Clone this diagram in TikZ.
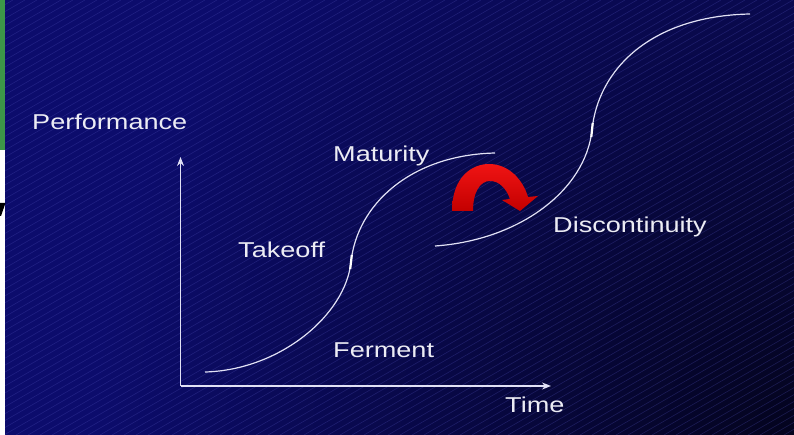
\documentclass[tikz,border=0pt]{standalone}
\usepackage{fontspec}
\setmainfont[FakeStretch=1.26]{Liberation Sans}
\usetikzlibrary{arrows.meta}
\definecolor{bgblue}{RGB}{12,12,108}
\definecolor{bgdark}{RGB}{4,4,30}
\definecolor{stripe}{RGB}{80,80,185}
\definecolor{curvecol}{RGB}{225,225,245}
\definecolor{txtcol}{RGB}{236,236,244}
\definecolor{slidegreen}{RGB}{60,150,72}
\definecolor{arrowred}{RGB}{240,20,20}
\definecolor{arrowdark}{RGB}{195,0,0}
\begin{document}
\begin{tikzpicture}[x=1pt,y=-1pt,
  lbl/.style={anchor=base west, inner sep=0pt, text=txtcol, font=\fontsize{21.5}{26}\selectfont},
  scurve/.style={draw=curvecol, line width=1.2pt},
  ticksty/.style={draw=white, line width=2.2pt},
  axis/.style={draw=curvecol, line width=1.3pt, -{Stealth[length=9pt,width=7pt]}}]
\useasboundingbox (0,0) rectangle (794,435);
% background
\fill[bgblue] (0,0) rectangle (794,435);
\begin{scope}
  \clip (0,0) rectangle (794,435);
  \shade[inner color=bgdark, outer color=bgblue] (794,435) circle (700);
  \foreach \i in {-800,-788,...,800}
    \draw[stripe, opacity=0.3, line width=0.6pt] (\i,435) -- ++(753,-435);
\end{scope}
% left edge remnants
\fill[slidegreen] (0,0) rectangle (5,150);
\fill[white] (0,150) rectangle (5,435);
\fill[black] (0,203) -- (5.5,203) -- (1,216) -- (0,216) -- cycle;
% axes
\coordinate (o) at (180.5,386);
\coordinate (ytop) at (180.5,157);
\coordinate (xend) at (551,386);
\draw[axis] (o) -- (ytop);
\draw[axis] (o) -- (xend);
% first S-curve
\coordinate (s1a) at (205,372);
\coordinate (s1m) at (351,262);
\coordinate (s1b) at (495,153);
\draw[scurve] (s1a) .. controls (280,370) and (345.4,315) .. (s1m)
  .. controls (357,205) and (410,155) .. (s1b);
\draw[ticksty] ([shift={(-0.8,7)}]s1m) -- ([shift={(0.8,-7)}]s1m);
% second S-curve
\coordinate (s2a) at (435,246);
\coordinate (s2m) at (592,130);
\coordinate (s2b) at (750,14);
\draw[scurve] (s2a) .. controls (520,240) and (585.5,190) .. (s2m)
  .. controls (598,70) and (650,16) .. (s2b);
\draw[ticksty] ([shift={(-0.7,7)}]s2m) -- ([shift={(0.7,-7)}]s2m);
% red curved arrow
\shade[top color=arrowred, bottom color=arrowdark]
  (452,211) .. controls (452,177) and (472,164) .. (489,164)
  .. controls (509,164) and (523,180) .. (528,197)
  -- (538,196) -- (520,211) -- (502,200) -- (510,199)
  .. controls (506,188) and (499,181) .. (490,181)
  .. controls (480,181) and (473,192) .. (473,211) -- cycle;
% labels
\node[lbl] (perf) at (32,130) {Performance};
\node[lbl] (mat) at (333,162) {Maturity};
\node[lbl] (take) at (238,258) {Takeoff};
\node[lbl] (ferm) at (333,357) {Ferment};
\node[lbl] (time) at (505,412) {Time};
\node[lbl] (disc) at (553,233) {Discontinuity};
\end{tikzpicture}
\end{document}
